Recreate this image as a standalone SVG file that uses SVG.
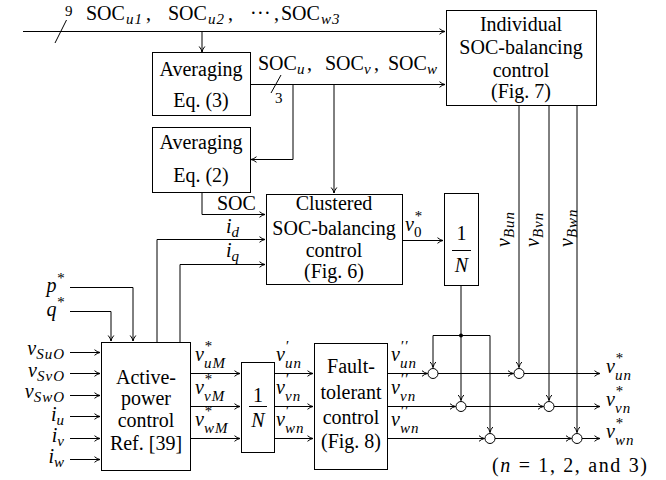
<svg xmlns="http://www.w3.org/2000/svg" width="666" height="480" viewBox="0 0 666 480">
<style>
.bx{fill:#fff;stroke:#000;stroke-width:1}
.ln{fill:none;stroke:#000;stroke-width:1}
.ar{fill:none;stroke:#000;stroke-width:1;marker-end:url(#arr)}
text{font-family:"Liberation Serif","Times New Roman",serif;font-size:20px}
.c{text-anchor:middle}
.e{text-anchor:end}
.i{font-style:italic}
.s{font-size:15px;letter-spacing:1px}
.sm{font-size:15px}
</style>
<defs>
<marker id="arr" markerWidth="8" markerHeight="8" refX="7" refY="4" orient="auto" markerUnits="userSpaceOnUse">
<path d="M1.5,1.2 Q4,3.4 7,4 Q4,4.6 1.5,6.8" fill="none" stroke="#000" stroke-width="1"/>
</marker>
</defs>

<g id="connectors">
<path class="ar" d="M23,31.5 H445"/>
<path class="ln" d="M66.5,20 L55,43"/>
<path class="ar" d="M202,31.5 V52"/>
<path class="ar" d="M250,84.5 H445"/>
<path class="ln" d="M281,75 L271,93"/>
<path class="ar" d="M293,84.5 V159.5 H251"/>
<path class="ar" d="M334,84.5 V193"/>
<path class="ar" d="M202,192 V214.5 H265"/>
<path class="ar" d="M157,342 V239.5 H265"/>
<path class="ar" d="M180,342 V264.5 H265"/>
<path class="ar" d="M402,240.5 H443"/>
<path class="ar" d="M461,285 V400.5"/>
<path class="ar" d="M433,335.5 V367.5"/>
<path class="ln" d="M433,335.5 H490"/>
<path class="ar" d="M490,335.5 V432.5"/>
<circle cx="461" cy="335.5" r="2"/>
<path class="ar" d="M519,105 V367.5"/>
<path class="ar" d="M549,105 V400.5"/>
<path class="ar" d="M577,105 V432.5"/>
<path class="ar" d="M70,287.5 H133 V341"/>
<path class="ar" d="M70,311.5 H111 V341"/>
<path class="ar" d="M70,352.5 H100"/>
<path class="ar" d="M70,373.5 H100"/>
<path class="ar" d="M70,395.5 H100"/>
<path class="ar" d="M70,416.5 H100"/>
<path class="ar" d="M70,438.5 H100"/>
<path class="ar" d="M70,459.5 H100"/>
<path class="ar" d="M190,373.5 H240"/>
<path class="ar" d="M190,406.5 H240"/>
<path class="ar" d="M190,438.5 H240"/>
<path class="ar" d="M274,373.5 H313"/>
<path class="ar" d="M274,406.5 H313"/>
<path class="ar" d="M274,438.5 H313"/>
<path class="ar" d="M387,373.5 H427.5"/>
<path class="ar" d="M438,373.5 H513.5"/>
<path class="ar" d="M524,373.5 H600"/>
<path class="ar" d="M387,406.5 H455.5"/>
<path class="ar" d="M466,406.5 H543.5"/>
<path class="ar" d="M554,406.5 H600"/>
<path class="ar" d="M387,438.5 H484.5"/>
<path class="ar" d="M495,438.5 H571.5"/>
<path class="ar" d="M582,438.5 H600"/>
</g>

<g id="sum-un1"><circle class="bx" cx="433" cy="373.5" r="5"/></g>
<g id="sum-un2"><circle class="bx" cx="519" cy="373.5" r="5"/></g>
<g id="sum-vn1"><circle class="bx" cx="461" cy="406.5" r="5"/></g>
<g id="sum-vn2"><circle class="bx" cx="549" cy="406.5" r="5"/></g>
<g id="sum-wn1"><circle class="bx" cx="490" cy="438.5" r="5"/></g>
<g id="sum-wn2"><circle class="bx" cx="577" cy="438.5" r="5"/></g>

<g id="avg3">
<rect class="bx" x="152.5" y="52.5" width="98" height="63"/>
<text class="c" x="201" y="76">Averaging</text>
<text class="c" x="201" y="107">Eq. (3)</text>
</g>
<g id="avg2">
<rect class="bx" x="152.5" y="127.5" width="98" height="65"/>
<text class="c" x="201" y="149">Averaging</text>
<text class="c" x="201" y="182">Eq. (2)</text>
</g>
<g id="individual">
<rect class="bx" x="446.5" y="10.5" width="150" height="95"/>
<text class="c" x="521" y="31">Individual</text>
<text class="c" x="521" y="54">SOC-balancing</text>
<text class="c" x="521" y="77">control</text>
<text class="c" x="521" y="98">(Fig. 7)</text>
</g>
<g id="clustered">
<rect class="bx" x="266.5" y="194.5" width="136" height="90"/>
<text class="c" x="334" y="210">Clustered</text>
<text class="c" x="334" y="235">SOC-balancing</text>
<text class="c" x="334" y="257">control</text>
<text class="c" x="334" y="278">(Fig. 6)</text>
</g>
<g id="div-top">
<rect class="bx" x="444.5" y="193.5" width="34" height="92"/>
<text class="c" x="461.5" y="240">1</text>
<path class="ln" d="M452,250.5 H471"/>
<text class="c i" x="461.5" y="272">N</text>
</g>
<g id="active">
<rect class="bx" x="101.5" y="342.5" width="89" height="128"/>
<text class="c" x="146" y="384">Active-</text>
<text class="c" x="146" y="405">power</text>
<text class="c" x="146" y="427">control</text>
<text class="c" x="146" y="450">Ref. [39]</text>
</g>
<g id="div-bot">
<rect class="bx" x="241.5" y="362.5" width="33" height="90"/>
<text class="c" x="258" y="402">1</text>
<path class="ln" d="M249,406.5 H267"/>
<text class="c i" x="258" y="427">N</text>
</g>
<g id="fault">
<rect class="bx" x="314.5" y="343.5" width="73" height="126"/>
<text class="c" x="351" y="373">Fault-</text>
<text class="c" x="351" y="399">tolerant</text>
<text class="c" x="351" y="424">control</text>
<text class="c" x="351" y="448">(Fig. 8)</text>
</g>

<g id="labels">
<text class="sm" x="65" y="16">9</text>
<text x="86" y="20">SOC<tspan class="i s" x="126" dy="4">u1</tspan><tspan x="146" dy="-4">,</tspan><tspan x="168">SOC</tspan><tspan class="i s" x="208" dy="4">u2</tspan><tspan x="228" dy="-4">,</tspan><tspan x="250">·</tspan><tspan x="257">·</tspan><tspan x="264">·</tspan><tspan x="274">,</tspan><tspan x="281">SOC</tspan><tspan class="i s" x="321" dy="4">w3</tspan></text>
<text x="258" y="70">SOC<tspan class="i s" x="297" dy="4">u</tspan><tspan x="307" dy="-4">,</tspan><tspan x="325">SOC</tspan><tspan class="i s" x="364" dy="4">v</tspan><tspan x="374" dy="-4">,</tspan><tspan x="388">SOC</tspan><tspan class="i s" x="427" dy="4">w</tspan></text>
<text class="sm" x="275" y="103">3</text>
<text x="217" y="210">SOC</text>
<text class="i" x="226" y="233">i<tspan class="s" dy="4">d</tspan></text>
<text class="i" x="226" y="257">i<tspan class="s" dy="4">q</tspan></text>
<text class="i" x="405" y="231">v<tspan class="s" dy="-10">*</tspan><tspan class="s" x="414" dy="16" font-style="normal">0</tspan></text>
<text class="i" transform="translate(510,247) rotate(-90)">v<tspan class="s" dy="4">Bun</tspan></text>
<text class="i" transform="translate(539,247) rotate(-90)">v<tspan class="s" dy="4">Bvn</tspan></text>
<text class="i" transform="translate(573,247) rotate(-90)">v<tspan class="s" dy="4">Bwn</tspan></text>
<text class="i e" x="65" y="292">p<tspan class="s" dy="-9">*</tspan></text>
<text class="i e" x="65" y="316">q<tspan class="s" dy="-9">*</tspan></text>
<text class="i e" x="65" y="355">v<tspan class="s" dy="4">SuO</tspan></text>
<text class="i e" x="65" y="377">v<tspan class="s" dy="4">SvO</tspan></text>
<text class="i e" x="65" y="398">v<tspan class="s" dy="4">SwO</tspan></text>
<text class="i e" x="65" y="421">i<tspan class="s" dy="4">u</tspan></text>
<text class="i e" x="65" y="442">i<tspan class="s" dy="4">v</tspan></text>
<text class="i e" x="65" y="463">i<tspan class="s" dy="4">w</tspan></text>
<text class="i" x="195" y="361">v<tspan class="s" dy="-10">*</tspan><tspan class="s" x="204" dy="17">uM</tspan></text>
<text class="i" x="195" y="394">v<tspan class="s" dy="-10">*</tspan><tspan class="s" x="204" dy="17">vM</tspan></text>
<text class="i" x="195" y="426">v<tspan class="s" dy="-10">*</tspan><tspan class="s" x="204" dy="17">wM</tspan></text>
<text class="i" x="276" y="361">v<tspan class="s" dy="-10">′</tspan><tspan class="s" x="285" dy="17">un</tspan></text>
<text class="i" x="276" y="394">v<tspan class="s" dy="-10">′</tspan><tspan class="s" x="285" dy="17">vn</tspan></text>
<text class="i" x="276" y="426">v<tspan class="s" dy="-10">′</tspan><tspan class="s" x="285" dy="17">wn</tspan></text>
<text class="i" x="391" y="361">v<tspan class="s" dy="-10">′′</tspan><tspan class="s" x="400" dy="17">un</tspan></text>
<text class="i" x="391" y="394">v<tspan class="s" dy="-10">′′</tspan><tspan class="s" x="400" dy="17">vn</tspan></text>
<text class="i" x="391" y="426">v<tspan class="s" dy="-10">′′</tspan><tspan class="s" x="400" dy="17">wn</tspan></text>
<text class="i" x="606" y="373">v<tspan class="s" dy="-10">*</tspan><tspan class="s" x="615" dy="17">un</tspan></text>
<text class="i" x="606" y="406">v<tspan class="s" dy="-10">*</tspan><tspan class="s" x="615" dy="17">vn</tspan></text>
<text class="i" x="606" y="438">v<tspan class="s" dy="-10">*</tspan><tspan class="s" x="615" dy="17">wn</tspan></text>
<text x="492" y="472" textLength="155" lengthAdjust="spacing">(<tspan class="i">n</tspan> = 1, 2, and 3)</text>
</g>
</svg>
